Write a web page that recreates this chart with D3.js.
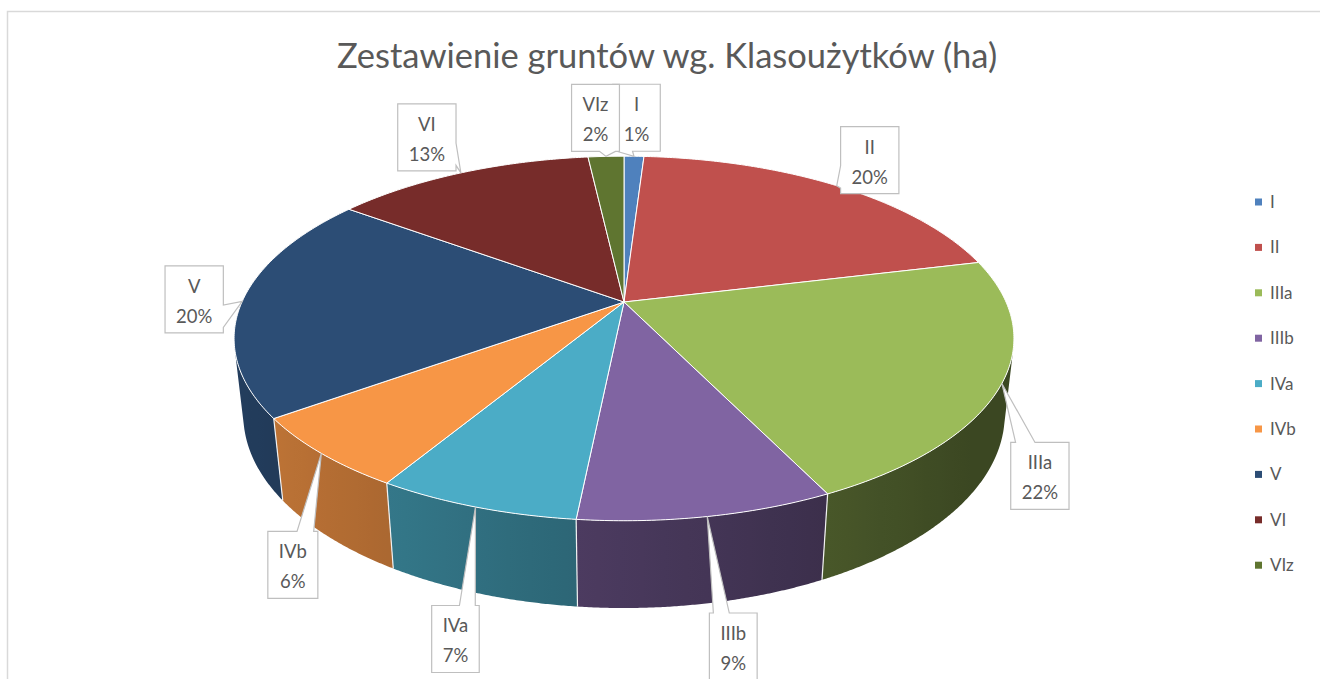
<!DOCTYPE html>
<html lang="pl">
<head>
    <meta charset="UTF-8">
    <title>Zestawienie gruntów wg. Klasoużytków</title>
    <script src="https://d3js.org/d3.v7.min.js"></script>
    <style>
        body { margin: 0; background: #fff; font-family: Lato, "Open Sans", sans-serif; }
        svg { display: block; }
        .lbl { fill: #595959; font-size: 18.5px; text-anchor: middle; }
        .leg { fill: #595959; font-size: 17px; }
    </style>
</head>
<body>
    <svg width="1320" height="679"></svg>

    <script>
        // dane (ha)
        const categories = ["I", "II", "IIIa", "IIIb", "IVa", "IVb", "V", "VI", "VIz"];
        const values = [1.0, 20.2, 21.6, 8.8, 7.0, 6.4, 20.1, 13.1, 1.8];
        const colors = ["#4F81BD", "#C0504D", "#9BBB59", "#8064A2", "#4BACC6",
                        "#F79646", "#2C4D75", "#772C2A", "#5F7530"];
        // przesunięcie środka dymka względem końca wskaźnika
        const calloutOffsets = [[2.5, -38.5], [33, -25.5], [38, 92.5], [26, 130], [-20, 132],
                                [-28.5, 111.5], [-48, -2], [-34, -35.5], [-10.5, -38.5]];

        const width = 1320, height = 679;
        const svg = d3.select("svg");
        const defs = svg.append("defs");

        // ramka wykresu
        svg.append("rect")
            .attr("x", 7.5).attr("y", 11.5)
            .attr("width", 1400).attr("height", 800)
            .attr("fill", "none").attr("stroke", "#d9d9d9").attr("stroke-width", 1.5);

        svg.append("text")
            .attr("x", 667).attr("y", 68)
            .attr("text-anchor", "middle")
            .attr("fill", "#595959")
            .style("font-size", "34.5px")
            .text("Zestawienie gruntów wg. Klasoużytków (ha)");

        // rzut perspektywiczny 3D
        const cx = 624, cy = 302;
        const D = 1, R = 0.225, T = 0.051, F = 1698;
        const phi = Math.asin(0.458);
        const sp = Math.sin(phi), cp = Math.cos(phi);

        function project(theta, r, y) {
            const X = r * Math.sin(theta), Z = -r * Math.cos(theta);
            const depth = D - (y * sp + Z * cp);
            return [cx + F * X / depth, cy - F * (y * cp - Z * sp) / depth];
        }

        const pie = d3.pie().sort(null).value(d => d);
        const arcs = pie(values);
        const total = d3.sum(values);
        const pct = d3.format(".0%");
        const line = d3.line();

        function sample(a0, a1, step) {
            const n = Math.max(2, Math.ceil((a1 - a0) / step));
            return d3.range(n + 1).map(i => a0 + (a1 - a0) * i / n);
        }

        function shade(col, t) {
            const f = Math.max(0.38, Math.min(0.85, 0.57 - 0.24 * Math.sin(t)));
            const c = d3.rgb(col);
            return d3.rgb(c.r * f, c.g * f, c.b * f).formatHex();
        }

        // boki - tylko część widoczna od strony kamery
        const tA = Math.acos(-R / (D * cp)), tB = 2 * Math.PI - tA;
        const gSide = svg.append("g");
        arcs.forEach((a, i) => {
            const a0 = Math.max(a.startAngle, tA), a1 = Math.min(a.endAngle, tB);
            if (a1 <= a0) return;
            const angs = sample(a0, a1, 0.005);
            const top = angs.map(t => project(t, R, 0));
            const bot = angs.map(t => project(t, R, -T)).reverse();
            const x0 = top[0][0], x1 = top[top.length - 1][0];
            const grad = defs.append("linearGradient")
                .attr("id", "side" + i)
                .attr("gradientUnits", "userSpaceOnUse")
                .attr("x1", x0).attr("y1", 0).attr("x2", x1).attr("y2", 0);
            sample(a0, a1, 0.05).forEach(t => {
                const px = project(t, R, 0)[0];
                grad.append("stop")
                    .attr("offset", Math.abs(x1 - x0) < 1e-6 ? 0 : (px - x0) / (x1 - x0))
                    .attr("stop-color", shade(colors[i], t));
            });
            gSide.append("path")
                .attr("d", line(top.concat(bot)) + "Z")
                .attr("fill", `url(#side${i})`);
        });
        // białe krawędzie między bokami
        arcs.forEach(a => {
            const t = a.startAngle;
            if (t <= tA || t >= tB) return;
            gSide.append("path")
                .attr("d", line([project(t, R, 0), project(t, R, -T)]))
                .attr("stroke", "#f2f2f2").attr("stroke-width", 1.2);
        });

        // wierzch
        svg.append("g").selectAll("path")
            .data(arcs)
            .join("path")
            .attr("d", a => line([project(0, 0, 0)].concat(
                sample(a.startAngle, a.endAngle, 0.01).map(t => project(t, R, 0)))) + "Z")
            .attr("fill", (a, i) => colors[i])
            .attr("stroke", "#fff").attr("stroke-width", 1)
            .attr("stroke-linejoin", "round");

        // dymki z etykietami
        function calloutPath(l, t, w, h, tx, ty) {
            const mx = l + w / 2, my = t + h / 2;
            const dx = (tx - mx) / w, dy = (ty - my) / h;
            const r = l + w, b = t + h;
            const p = d3.path();
            p.moveTo(l, t);
            if (Math.abs(dx) <= Math.abs(dy) && dy < 0) {
                const b1 = tx < mx ? l + w / 12 : l + w * 7 / 12, b2 = b1 + w / 3;
                p.lineTo(b1, t); p.lineTo(tx, ty); p.lineTo(b2, t);
            }
            p.lineTo(r, t);
            if (Math.abs(dx) > Math.abs(dy) && dx > 0) {
                const b1 = ty < my ? t + h / 12 : t + h * 7 / 12, b2 = b1 + h / 3;
                p.lineTo(r, b1); p.lineTo(tx, ty); p.lineTo(r, b2);
            }
            p.lineTo(r, b);
            if (Math.abs(dx) <= Math.abs(dy) && dy >= 0) {
                const b1 = tx < mx ? l + w / 12 : l + w * 7 / 12, b2 = b1 + w / 3;
                p.lineTo(b2, b); p.lineTo(tx, ty); p.lineTo(b1, b);
            }
            p.lineTo(l, b);
            if (Math.abs(dx) > Math.abs(dy) && dx <= 0) {
                const b1 = ty < my ? t + h / 12 : t + h * 7 / 12, b2 = b1 + h / 3;
                p.lineTo(l, b2); p.lineTo(tx, ty); p.lineTo(l, b1);
            }
            p.closePath();
            return p.toString();
        }

        const gLbl = svg.append("g");
        arcs.forEach((a, i) => {
            const mid = (a.startAngle + a.endAngle) / 2;
            const [tx, ty] = project(mid, R, 0);
            const bx = tx + calloutOffsets[i][0], by = ty + calloutOffsets[i][1];
            const g = gLbl.append("g");
            const shape = g.append("path");
            const t1 = g.append("text").attr("class", "lbl").attr("x", bx).text(categories[i]);
            const t2 = g.append("text").attr("class", "lbl").attr("x", bx).text(pct(values[i] / total));
            const tw = Math.max(t1.node().getComputedTextLength(), t2.node().getComputedTextLength());
            const w = tw + 22, h = 67;
            const l = bx - w / 2, t = by - h / 2;
            t1.attr("y", t + 27);
            t2.attr("y", t + 57);
            shape.attr("d", calloutPath(l, t, w, h, tx, ty))
                .attr("fill", "#fff").attr("stroke", "#bfbfbf").attr("stroke-width", 1.2);
        });

        // legenda
        const leg = svg.append("g").selectAll("g")
            .data(categories)
            .join("g")
            .attr("transform", (d, i) => `translate(1255,${202 + i * 45.4})`);
        leg.append("rect")
            .attr("x", 0).attr("y", -3.5).attr("width", 7).attr("height", 7)
            .attr("fill", (d, i) => colors[i]);
        leg.append("text")
            .attr("class", "leg")
            .attr("x", 15).attr("y", 6)
            .text(d => d);
    </script>
</body>
</html>
